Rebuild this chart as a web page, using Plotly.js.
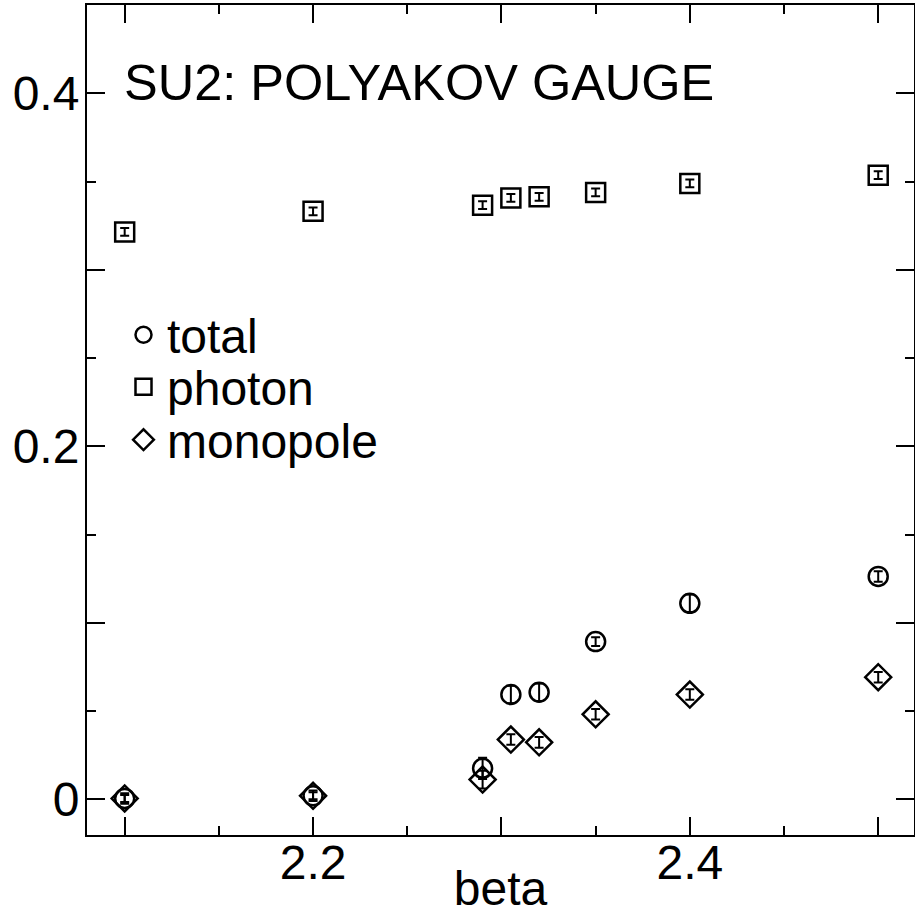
<!DOCTYPE html>
<html>
<head>
<meta charset="utf-8">
<script src="https://cdn.plot.ly/plotly-3.0.1.min.js"></script>
<style>html,body{margin:0;padding:0;background:#fff;}</style>
</head>
<body>
<div id="chart" style="width:915px;height:915px;"></div>
<script>
// beta values
var betaVals = [2.1, 2.2, 2.29, 2.305, 2.32, 2.35, 2.4, 2.5];
// total
var totalVals = [0.0005, 0.002, 0.0176, 0.0594, 0.0607, 0.0894, 0.1111, 0.1263];
var totalErr  = [0.002, 0.002, 0.006, 0.005, 0.005, 0.0025, 0.005, 0.003];
// photon
var photonVals = [0.3215, 0.3332, 0.3367, 0.3408, 0.3414, 0.3439, 0.3490, 0.3537];
var photonErr  = [0.0022, 0.0022, 0.0022, 0.0022, 0.0022, 0.0022, 0.0022, 0.0022];
// monopole
var monoVals = [0.0005, 0.002, 0.0112, 0.0339, 0.0323, 0.0482, 0.0594, 0.0692];
var monoErr  = [0.003, 0.003, 0.005, 0.003, 0.003, 0.003, 0.003, 0.003];
// names and ticks
var seriesNames = ['total', 'photon', 'monopole'];
var xTickVals = [2.1, 2.2, 2.3, 2.4, 2.5];
var xTickText = ['', '2.2', '', '2.4', ''];
var yTickVals = [0, 0.1, 0.2, 0.3, 0.4];
var yTickText = ['0', '', '0.2', '', '0.4'];

var FONT = 'Liberation Sans, Arial, Helvetica, sans-serif';

function mk(name, ys, errs, symbol, size, legendId) {
  return {
    type: 'scatter', mode: 'markers', name: name,
    x: betaVals, y: ys,
    error_y: {type: 'data', array: errs, visible: true, color: '#000', thickness: 2, width: 4.5},
    marker: {symbol: symbol, size: size, color: '#000', line: {color: '#000', width: 2.5}},
    legend: legendId, showlegend: true
  };
}

var data = [
  mk(seriesNames[0], totalVals, totalErr, 'circle-open', 19, 'legend'),
  mk(seriesNames[1], photonVals, photonErr, 'square-open', 19, 'legend2'),
  mk(seriesNames[2], monoVals, monoErr, 'diamond-open', 20, 'legend3')
];

function leg(yc) {
  return {
    xref: 'paper', yref: 'paper',
    x: (120 - 87)/827, y: (835 - yc)/830, xanchor: 'left', yanchor: 'middle',
    font: {family: FONT, size: 48, color: '#000'},
    bgcolor: 'rgba(0,0,0,0)', borderwidth: 0, itemsizing: 'trace', itemwidth: 37
  };
}

var axisCommon = {
  showgrid: false, zeroline: false,
  showline: true, linecolor: '#000', linewidth: 2, mirror: 'allticks',
  ticks: 'inside', ticklen: 18, tickwidth: 2, tickcolor: '#000',
  tickfont: {family: FONT, size: 48, color: '#000'},
  tickmode: 'array', automargin: false
};

var layout = {
  width: 915, height: 915, autosize: false,
  paper_bgcolor: '#fff', plot_bgcolor: '#fff',
  margin: {l: 87, r: 1, t: 5, b: 80, pad: 0, autoexpand: false},
  font: {family: FONT, color: '#000'},
  title: {
    text: 'SU2: POLYAKOV GAUGE',
    font: {family: FONT, size: 50.5, color: '#000'},
    xref: 'container', yref: 'container',
    x: 124/915, xanchor: 'left', y: 1 - 82/915, yanchor: 'middle'
  },
  xaxis: Object.assign({}, axisCommon, {
    range: [2.08, 2.519],
    tickvals: xTickVals, ticktext: xTickText,
    ticklabelstandoff: -16,
    minor: {tickmode: 'linear', tick0: 2.05, dtick: 0.05, ticks: 'inside', ticklen: 9, tickwidth: 2, tickcolor: '#000', showgrid: false},
    title: {text: 'beta', font: {family: FONT, size: 48, color: '#000'}, standoff: 0}
  }),
  yaxis: Object.assign({}, axisCommon, {
    range: [-0.0202, 0.4501],
    tickvals: yTickVals, ticktext: yTickText,
    ticklabelstandoff: -4,
    minor: {tickmode: 'linear', tick0: 0, dtick: 0.05, ticks: 'inside', ticklen: 9, tickwidth: 2, tickcolor: '#000', showgrid: false},
    title: {text: ''}
  }),
  legend: leg(335),
  legend2: leg(387),
  legend3: leg(440)
};

Plotly.newPlot('chart', data, layout, {displayModeBar: false, staticPlot: true});
</script>
</body>
</html>
